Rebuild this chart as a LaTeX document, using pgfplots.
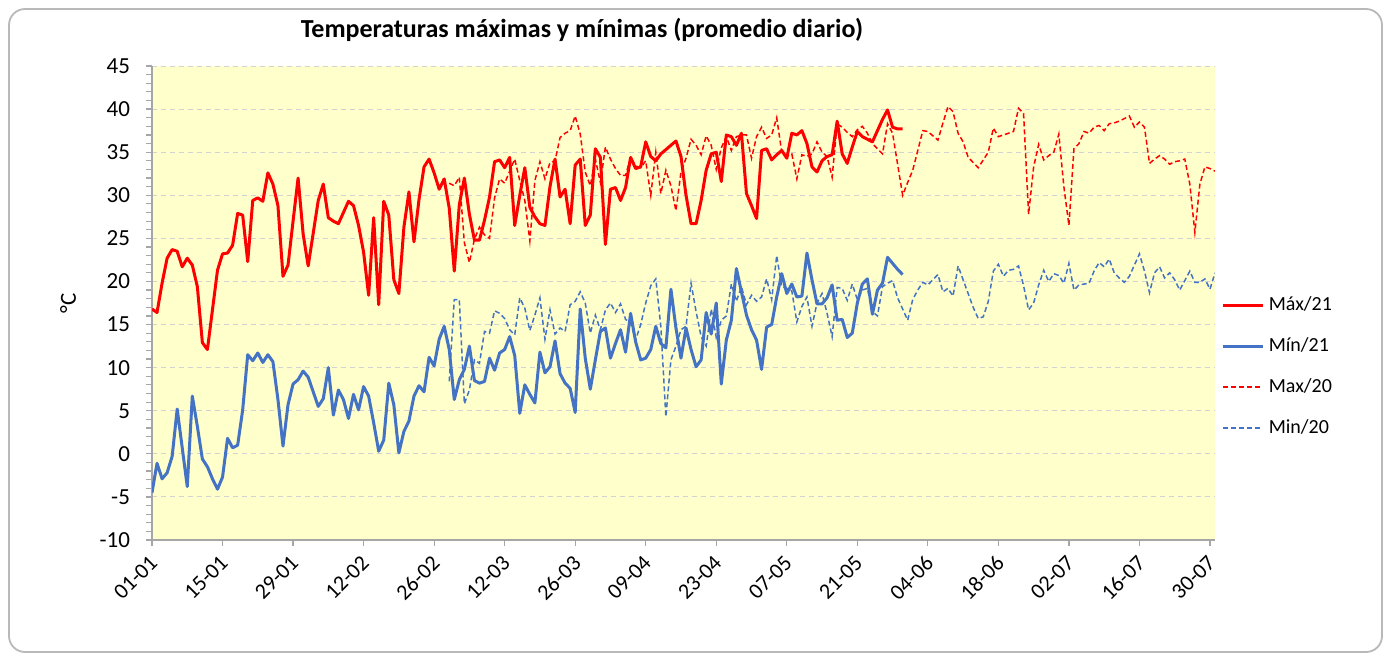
\documentclass[border=0pt]{standalone}
\usepackage{fontspec}
\setmainfont{Carlito}
\usepackage{pgfplots}
\pgfplotsset{compat=1.18}
\definecolor{bgyel}{RGB}{255,255,204}
\definecolor{myblue}{RGB}{68,114,196}
\definecolor{myred}{RGB}{255,0,0}
\begin{document}
\begin{tikzpicture}
\path[use as bounding box] (0,0) rectangle (695.5pt,330.5pt);
\draw[rounded corners=8pt, gray!55, line width=0.9pt] (4.5pt,4.5pt) rectangle (691pt,326pt);
\begin{axis}[
  at={(76pt,60.5pt)}, anchor=south west,
  scale only axis, width=531.5pt, height=237pt,
  xmin=0, xmax=211, ymin=-10, ymax=45,
  axis lines*=left,
  axis line style={gray!70, line width=0.6pt},
  axis background/.style={fill=bgyel},
  ytick={-10,-5,...,45},
  minor y tick num=4,
  xtick={0,14,...,210},
  xticklabels={01-01,15-01,29-01,12-02,26-02,12-03,26-03,09-04,23-04,07-05,21-05,04-06,18-06,02-07,16-07,30-07},
  tick align=outside,
  major tick length=3pt, minor tick length=3pt,
  every tick/.style={gray!70, line width=0.6pt},
  ymajorgrids,
  major grid style={gray!35, dash pattern=on 2.5pt off 2pt, line width=0.5pt},
  /pgf/number format/assume math mode=true,
  yticklabel style={font=\fontsize{11.5}{13}\selectfont, text=black, xshift=-4.5pt},
  xticklabel style={font=\fontsize{11}{13}\selectfont, text=black, rotate=45, anchor=north east, inner sep=1.5pt, xshift=-2.5pt},
  ylabel={°C},
  ylabel style={at={(axis description cs:-0.079,0.5)}, anchor=center, font=\fontsize{11.5}{13}\selectfont},
  title={Temperaturas máximas y mínimas (promedio diario)},
  title style={at={(axis description cs:0.4045,1.0506)}, anchor=center, font=\bfseries\fontsize{13}{15}\selectfont},
  legend style={at={(axis description cs:1.006,0.522)}, anchor=north west, draw=none, fill=none,
    font=\fontsize{10}{12}\selectfont, row sep=8pt, inner sep=0pt},
  legend cell align=left,
  legend image code/.code={\draw[#1] (0pt,0pt) -- (20pt,0pt);},
]
% Max/21
\addplot[color=myred, line width=1.5pt, line join=round] coordinates {
(0,16.8)(1,16.4)(2,19.8)(3,22.7)(4,23.7)(5,23.5)(6,21.7)(7,22.7)(8,21.9)(9,19.4)
(10,12.9)(11,12.1)(12,16.7)(13,21.3)(14,23.2)(15,23.3)(16,24.2)(17,27.9)(18,27.7)(19,22.3)
(20,29.4)(21,29.7)(22,29.3)(23,32.6)(24,31.3)(25,28.8)(26,20.6)(27,21.9)(28,27.0)(29,32.0)
(30,25.5)(31,21.8)(32,25.6)(33,29.4)(34,31.3)(35,27.4)(36,27.0)(37,26.7)(38,28.0)(39,29.3)
(40,28.8)(41,26.5)(42,23.4)(43,18.4)(44,27.4)(45,17.3)(46,29.3)(47,27.7)(48,20.2)(49,18.6)
(50,26.3)(51,30.4)(52,24.6)(53,29.5)(54,33.3)(55,34.2)(56,32.6)(57,30.7)(58,31.9)(59,28.5)
(60,21.2)(61,28.9)(62,32.0)(63,27.8)(64,24.8)(65,24.8)(66,27.1)(67,29.8)(68,33.9)(69,34.1)
(70,33.2)(71,34.4)(72,26.5)(73,30.0)(74,33.2)(75,28.6)(76,27.5)(77,26.7)(78,26.5)(79,31.0)
(80,34.2)(81,29.8)(82,30.7)(83,26.7)(84,33.5)(85,34.2)(86,26.5)(87,27.7)(88,35.4)(89,34.4)
(90,24.3)(91,30.7)(92,30.9)(93,29.4)(94,30.9)(95,34.4)(96,33.1)(97,33.3)(98,36.2)(99,34.5)
(100,34.0)(101,34.8)(102,35.3)(103,35.8)(104,36.3)(105,34.5)(106,30.0)(107,26.7)(108,26.7)(109,29.4)
(110,32.9)(111,34.8)(112,35.0)(113,31.6)(114,37.0)(115,36.8)(116,35.8)(117,37.2)(118,30.2)(119,28.8)
(120,27.3)(121,35.2)(122,35.4)(123,34.1)(124,34.7)(125,35.2)(126,34.3)(127,37.2)(128,37.0)(129,37.5)
(130,36.0)(131,33.3)(132,32.7)(133,34.0)(134,34.5)(135,34.7)(136,38.6)(137,34.8)(138,33.7)(139,35.6)
(140,37.4)(141,36.8)(142,36.5)(143,36.2)(144,37.5)(145,38.8)(146,39.9)(147,37.9)(148,37.7)(149,37.7)
};
\addlegendentry{Máx/21}
% Min/21
\addplot[color=myblue, line width=1.5pt, line join=round] coordinates {
(0,-4.5)(1,-1.1)(2,-2.9)(3,-2.2)(4,-0.3)(5,5.2)(6,0.7)(7,-3.8)(8,6.7)(9,3.2)
(10,-0.6)(11,-1.5)(12,-2.9)(13,-4.1)(14,-2.7)(15,1.8)(16,0.7)(17,1.0)(18,5.1)(19,11.5)
(20,10.8)(21,11.7)(22,10.6)(23,11.5)(24,10.7)(25,6.3)(26,0.9)(27,5.7)(28,8.1)(29,8.6)
(30,9.6)(31,8.9)(32,7.2)(33,5.5)(34,6.4)(35,10.0)(36,4.5)(37,7.4)(38,6.3)(39,4.1)
(40,6.9)(41,5.1)(42,7.8)(43,6.7)(44,3.6)(45,0.3)(46,1.6)(47,8.2)(48,5.7)(49,0.1)
(50,2.6)(51,3.8)(52,6.7)(53,7.9)(54,7.2)(55,11.2)(56,10.2)(57,13.3)(58,14.8)(59,12.1)
(60,6.3)(61,8.6)(62,9.8)(63,12.5)(64,8.5)(65,8.2)(66,8.4)(67,11.1)(68,9.7)(69,11.7)
(70,12.1)(71,13.6)(72,11.4)(73,4.7)(74,8.0)(75,6.9)(76,5.9)(77,11.8)(78,9.4)(79,10.1)
(80,13.1)(81,9.3)(82,8.2)(83,7.6)(84,4.8)(85,16.8)(86,11.1)(87,7.5)(88,10.9)(89,14.2)
(90,14.6)(91,11.1)(92,12.8)(93,14.4)(94,11.8)(95,16.3)(96,13.0)(97,10.9)(98,11.1)(99,12.1)
(100,14.8)(101,12.8)(102,12.3)(103,19.1)(104,14.6)(105,11.1)(106,14.6)(107,12.1)(108,10.1)(109,10.9)
(110,16.4)(111,13.9)(112,17.5)(113,8.1)(114,13.2)(115,15.5)(116,21.5)(117,18.8)(118,16.1)(119,14.4)
(120,13.2)(121,9.8)(122,14.7)(123,15.0)(124,18.2)(125,20.9)(126,18.6)(127,19.7)(128,18.2)(129,18.3)
(130,23.3)(131,20.2)(132,17.4)(133,17.4)(134,18.1)(135,19.6)(136,15.5)(137,15.6)(138,13.5)(139,14.0)
(140,17.5)(141,19.7)(142,20.3)(143,16.2)(144,19.0)(145,19.8)(146,22.8)(147,22.1)(148,21.4)(149,20.8)
};
\addlegendentry{Mín/21}
% Max/20
\addplot[color=myred, line width=0.75pt, dash pattern=on 2.5pt off 1.5pt] coordinates {
(59,31.4)(60,31.1)(61,32.1)(62,24.5)(63,22.2)(64,24.9)(65,26.3)(66,25.4)(67,25.0)(68,29.7)
(69,31.9)(70,31.4)(71,32.8)(72,34.2)(73,31.7)(74,29.4)(75,24.7)(76,31.7)(77,33.9)(78,31.9)
(79,33.8)(80,34.0)(81,36.7)(82,37.2)(83,37.5)(84,39.2)(85,37.1)(86,32.7)(87,31.1)(88,34.2)
(89,31.5)(90,35.6)(91,34.2)(92,33.1)(93,32.3)(94,32.3)(95,34.4)(96,33.4)(97,33.2)(98,34.0)
(99,30.0)(100,35.0)(101,30.2)(102,32.9)(103,31.1)(104,28.2)(105,32.7)(106,34.3)(107,36.5)(108,35.8)
(109,34.7)(110,36.9)(111,35.8)(112,33.0)(113,35.5)(114,36.8)(115,35.2)(116,36.8)(117,37.0)(118,37.0)
(119,34.3)(120,36.8)(121,37.9)(122,36.6)(123,37.0)(124,39.0)(125,35.0)(126,34.5)(127,34.8)(128,31.9)
(129,34.7)(130,34.5)(131,34.8)(132,36.2)(133,35.0)(134,34.5)(135,32.1)(136,38.3)(137,37.9)(138,37.3)
(139,36.8)(140,37.6)(141,38.0)(142,37.2)(143,36.0)(144,35.4)(145,34.8)(146,38.3)(147,37.2)(148,33.6)
(149,30.0)(150,31.5)(151,32.9)(152,35.2)(153,37.5)(154,37.4)(155,36.9)(156,36.4)(157,38.4)(158,40.3)
(159,39.7)(160,37.2)(161,36.2)(162,34.4)(163,33.8)(164,33.2)(165,34.1)(166,35.0)(167,37.8)(168,36.8)
(169,37.0)(170,37.2)(171,37.4)(172,40.1)(173,39.5)(174,27.8)(175,33.3)(176,35.9)(177,34.1)(178,34.6)
(179,35.0)(180,37.1)(181,31.0)(182,26.5)(183,35.4)(184,36.0)(185,37.4)(186,37.2)(187,37.9)(188,38.1)
(189,37.5)(190,38.3)(191,38.4)(192,38.6)(193,38.9)(194,39.2)(195,37.9)(196,38.5)(197,37.9)(198,33.7)
(199,34.2)(200,34.6)(201,34.2)(202,33.6)(203,33.9)(204,34.0)(205,34.2)(206,31.3)(207,25.7)(208,31.3)
(209,33.3)(210,33.1)(211,32.8)
};
\addlegendentry{Max/20}
% Min/20
\addplot[color=myblue, line width=0.75pt, dash pattern=on 2.5pt off 1.5pt] coordinates {
(59,8.4)(60,17.9)(61,17.9)(62,5.8)(63,7.4)(64,10.9)(65,10.5)(66,14.2)(67,14.0)(68,16.6)
(69,16.3)(70,15.7)(71,14.4)(72,13.8)(73,18.1)(74,16.9)(75,14.3)(76,16.1)(77,18.1)(78,13.3)
(79,16.7)(80,13.9)(81,14.6)(82,14.2)(83,17.3)(84,17.7)(85,18.8)(86,17.5)(87,14.0)(88,16.1)
(89,14.4)(90,16.7)(91,17.5)(92,16.4)(93,17.4)(94,15.6)(95,15.2)(96,13.2)(97,15.0)(98,17.5)
(99,19.5)(100,20.3)(101,14.8)(102,4.3)(103,10.9)(104,12.5)(105,14.4)(106,14.8)(107,19.8)(108,16.5)
(109,13.6)(110,12.5)(111,16.8)(112,13.5)(113,15.5)(114,16.0)(115,19.7)(116,17.7)(117,19.4)(118,17.3)
(119,18.4)(120,17.7)(121,18.2)(122,20.3)(123,17.9)(124,23.0)(125,19.4)(126,19.2)(127,18.9)(128,15.3)
(129,17.1)(130,18.2)(131,14.8)(132,17.5)(133,18.6)(134,16.3)(135,13.6)(136,19.3)(137,19.2)(138,17.8)
(139,19.7)(140,17.9)(141,19.0)(142,19.2)(143,16.5)(144,16.0)(145,19.4)(146,19.8)(147,20.1)(148,18.1)
(149,16.8)(150,15.5)(151,17.9)(152,19.0)(153,19.9)(154,19.6)(155,20.2)(156,20.8)(157,18.8)(158,19.2)
(159,18.3)(160,21.8)(161,20.2)(162,18.6)(163,17.0)(164,15.7)(165,15.9)(166,17.7)(167,21.2)(168,22.0)
(169,20.6)(170,21.3)(171,21.4)(172,21.8)(173,19.5)(174,16.7)(175,17.5)(176,19.6)(177,21.3)(178,20.0)
(179,20.9)(180,20.7)(181,19.8)(182,22.1)(183,19.0)(184,19.6)(185,19.7)(186,19.8)(187,21.2)(188,22.2)
(189,21.7)(190,22.6)(191,21.0)(192,20.4)(193,19.9)(194,20.6)(195,21.9)(196,23.2)(197,21.2)(198,18.7)
(199,21.0)(200,21.7)(201,20.4)(202,21.0)(203,20.2)(204,19.0)(205,20.1)(206,21.2)(207,19.9)(208,19.9)
(209,20.3)(210,19.1)(211,21.0)
};
\addlegendentry{Min/20}
\end{axis}
\end{tikzpicture}
\end{document}
